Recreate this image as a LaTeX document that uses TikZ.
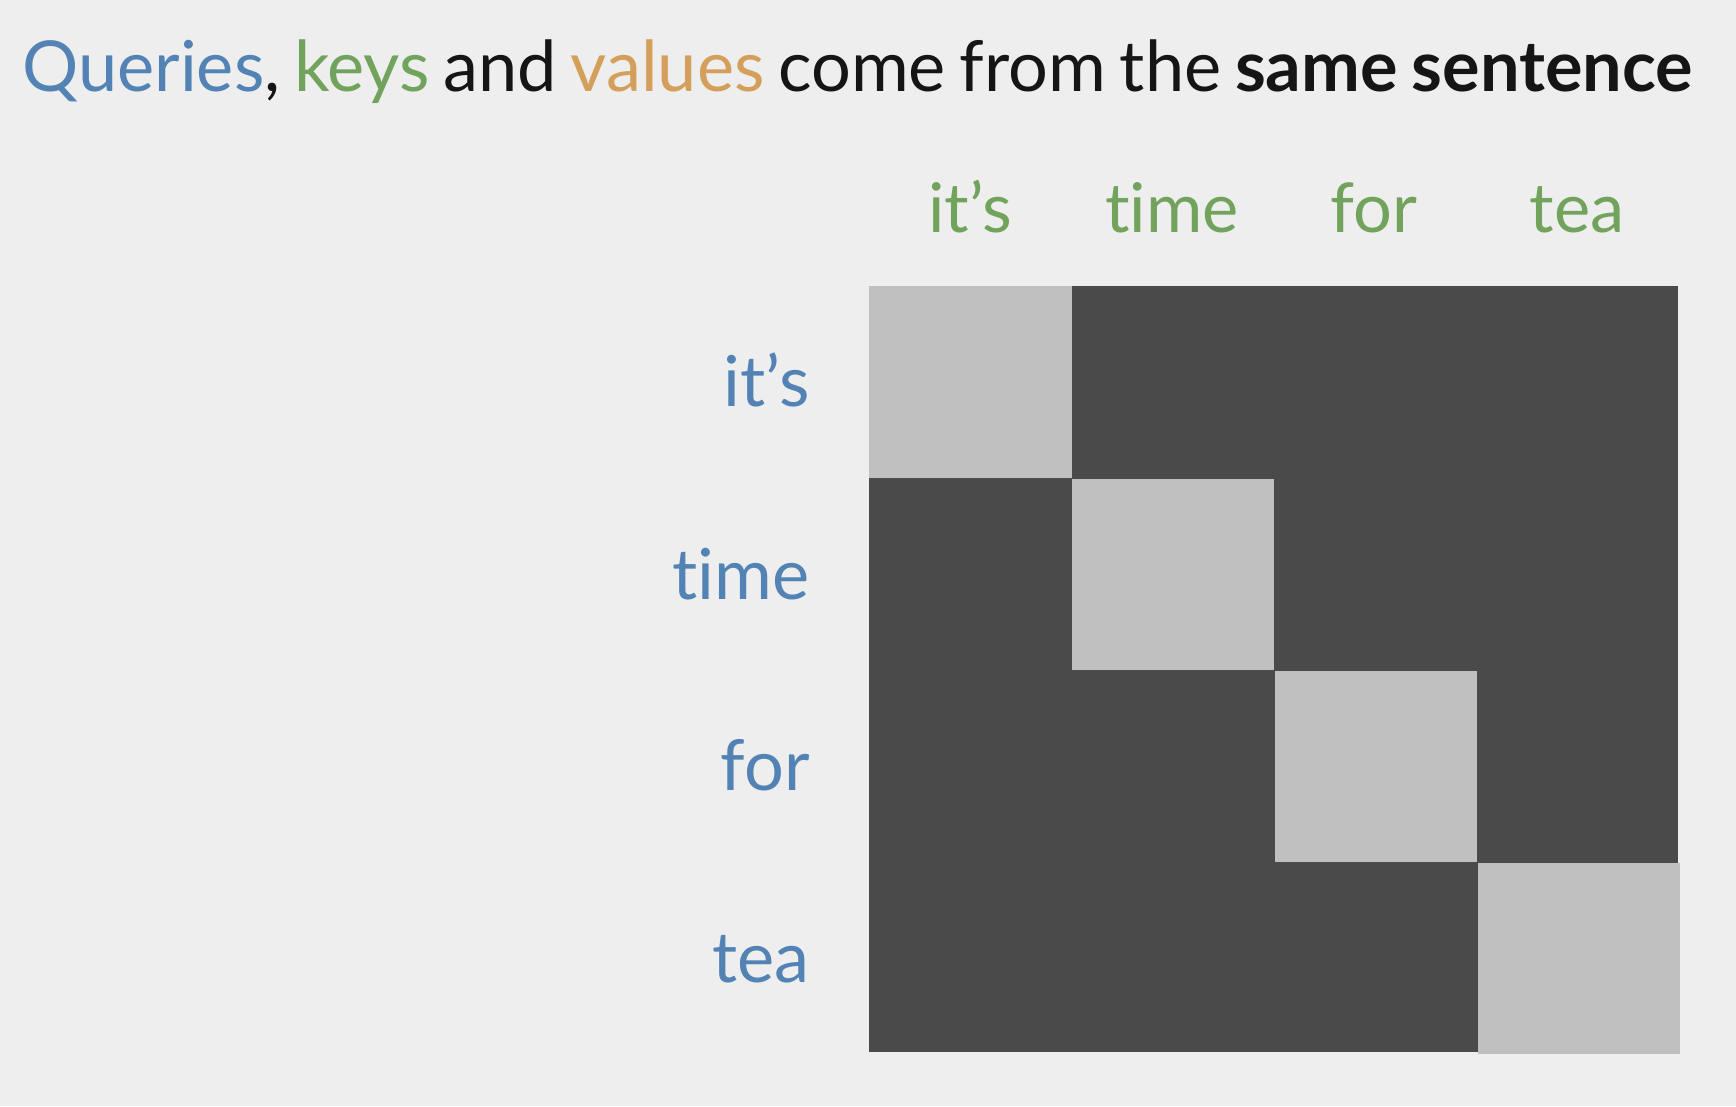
\documentclass[tikz,border=0pt]{standalone}
\usepackage{fontspec}
\setmainfont{Lato}[Ligatures=NoCommon]
\usetikzlibrary{positioning}
\definecolor{bggray}{HTML}{EEEEEE}
\definecolor{qblue}{HTML}{5283B4}
\definecolor{kgreen}{HTML}{72A35C}
\definecolor{vorange}{HTML}{D49F5A}
\definecolor{inktext}{HTML}{151515}
\definecolor{maskdark}{HTML}{4A4A4A}
\definecolor{masklight}{HTML}{C0C0C0}
\newcommand{\tightwords}{\spaceskip=7.8pt plus 1pt\relax}

\begin{document}
\begin{tikzpicture}[x=0.02cm, y=-0.02cm,
  every node/.style={inner sep=0pt},
  title/.style={font=\fontsize{40}{48}\selectfont,
                text=inktext, anchor=base west},
  keylbl/.style={font=\fontsize{39}{47}\selectfont, text=kgreen, anchor=base},
  querylbl/.style={font=\fontsize{40}{48}\selectfont, text=qblue, anchor=base east},
  block/.style={rectangle, fill=maskdark, minimum width=16.18cm,
                minimum height=15.32cm, anchor=north west},
  cell/.style={rectangle, fill=masklight, minimum width=4.045cm,
               minimum height=3.83cm, anchor=north west}
]
% Background
\fill[bggray] (0,0) rectangle (1736,1106);
\useasboundingbox (0,0) rectangle (1736,1106);
% Title
\node[title] (head) at (22,91)
      {\tightwords\textcolor{qblue}{Queries}, \textcolor{kgreen}{keys} and
       \textcolor{vorange}{values} come from the \textbf{same sentence}};
% Mask
\node[block] (mask) at (869,286) {};
\node[cell] (d1) at (mask.north west) {};
\node[cell] (d2) at (d1.south east) {};
\node[cell] (d3) at (d2.south east) {};
\node[cell] (d4) at (d3.south east) {};
% Keys
\node[keylbl] (k1) at (970,232)  {it’s};
\node[keylbl] (k2) at (1172,232) {time};
\node[keylbl] (k3) at (1374,232) {for};
\node[keylbl] (k4) at (1577,232) {tea};
% Queries
\node[querylbl] (q1) at (810,406) {it’s};
\node[querylbl] (q2) at (810,599) {time};
\node[querylbl] (q3) at (810,790) {for};
\node[querylbl] (q4) at (810,982) {tea};
\end{tikzpicture}
\end{document}
